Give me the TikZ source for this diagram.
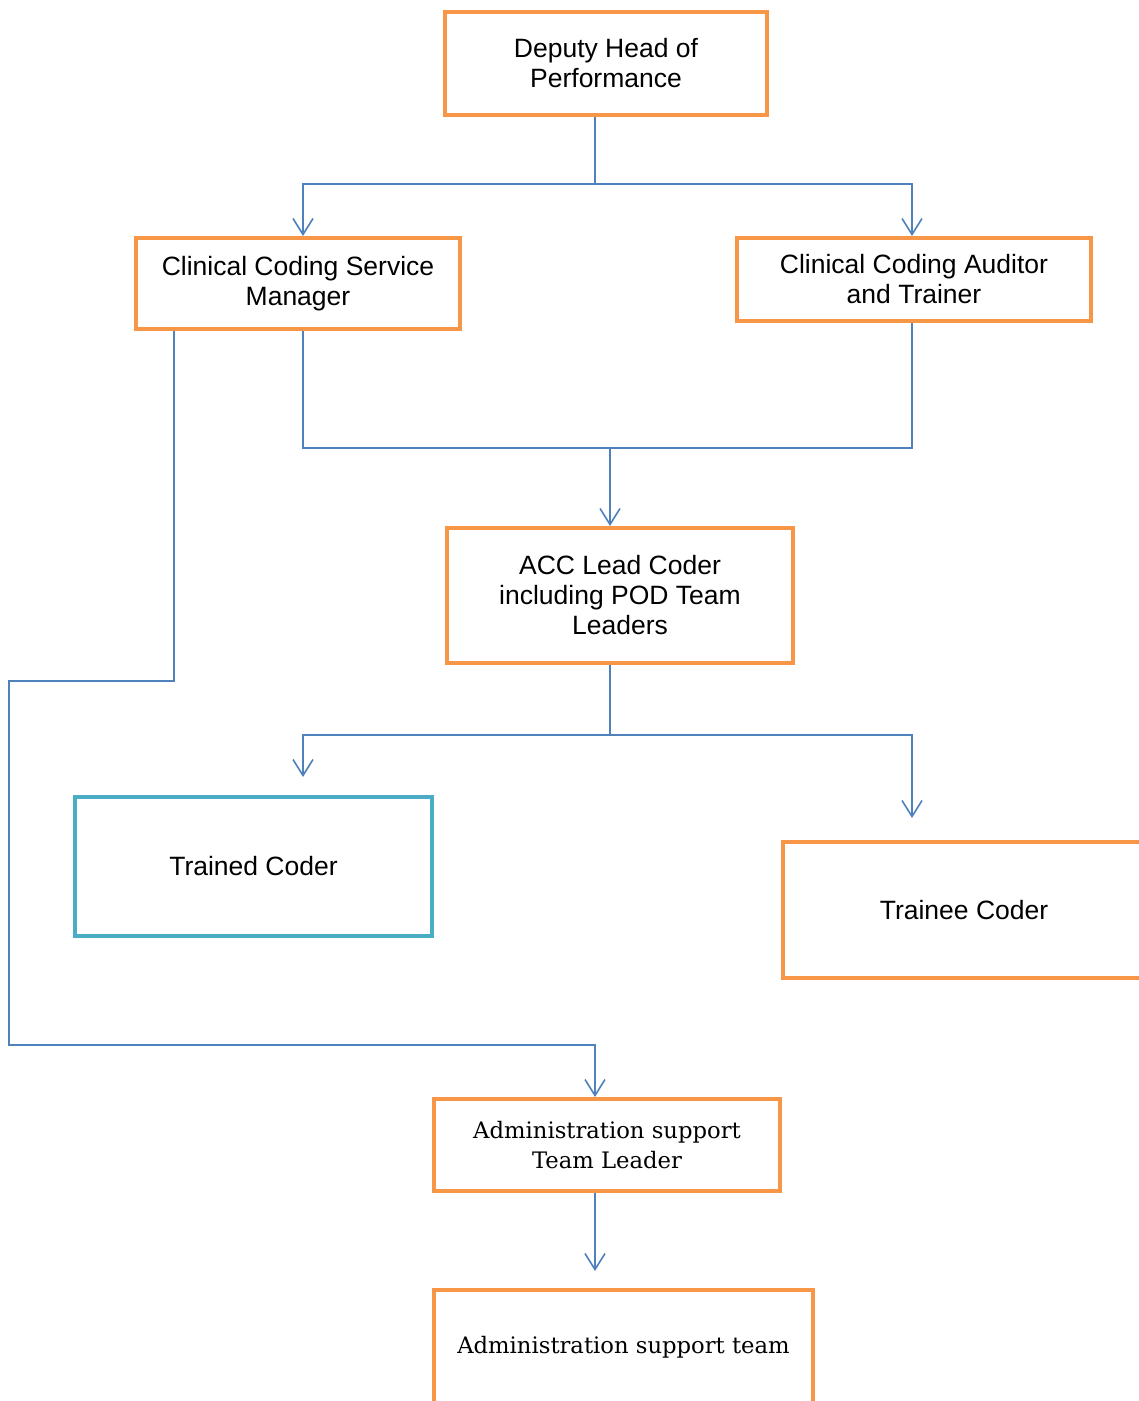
\documentclass[tikz,border=0pt]{standalone}
\usepackage{fontspec}
\setmainfont{Liberation Sans}
\newfontfamily\serifadmin{DejaVu Serif}
\usetikzlibrary{arrows.meta}
\definecolor{borange}{HTML}{F79646}
\definecolor{lblue}{HTML}{4F81BD}
\definecolor{lteal}{HTML}{4BACC6}
\begin{document}
\begin{tikzpicture}[x=1pt,y=-1pt,
  obox/.style={draw=borange, line width=4pt, rectangle, align=center, inner sep=0pt,
    font=\fontsize{26.5}{30}\selectfont},
  tbox/.style={obox, draw=lteal},
  sbox/.style={obox, font=\serifadmin\fontsize{22.7}{30}\selectfont},
  conn/.style={draw=lblue, line width=1.6pt},
  arr/.style={conn, -{Straight Barb[length=16pt,width=20pt]}}]
\useasboundingbox (0,0) rectangle (1139,1401);
\clip (0,0) rectangle (1139,1401);
\fill[white] (0,0) rectangle (1139,1401);

\node[obox, minimum width=322pt, minimum height=103pt] (dep) at (606,63.5) {Deputy Head of\\Performance};
\node[obox, minimum width=324pt, minimum height=91pt] (csm) at (298,283.5) {Clinical Coding Service\\Manager};
\node[obox, minimum width=354pt, minimum height=83pt] (cat) at (914,279.5) {Clinical Coding Auditor\\and Trainer};
\node[obox, minimum width=346pt, minimum height=135pt] (acc) at (620,595.5) {ACC Lead Coder\\including POD Team\\Leaders};
\node[tbox, minimum width=357pt, minimum height=139pt] (trd) at (253.5,866.5) {Trained Coder};
\node[obox, minimum width=362pt, minimum height=136pt] (tre) at (964,910) {Trainee Coder};
\node[sbox, minimum width=346pt, minimum height=92pt] (atl) at (607,1145) {Administration support\\Team Leader};
\node[sbox, minimum width=379pt, minimum height=114pt] (atm) at (623.5,1347) {Administration support team};

\coordinate (j1) at (595,184);
\coordinate (j2) at (610,448);
\coordinate (j3) at (610,735);
\coordinate (c1) at (174,681);
\coordinate (c2) at (9,681);
\coordinate (c3) at (9,1045);
\coordinate (c4) at (595,1045);
\coordinate (t1) at ([xshift=49.5pt,yshift=18pt]trd.north);
\coordinate (t2) at ([xshift=-52pt,yshift=22pt]tre.north);
\coordinate (t3) at ([xshift=-28.5pt,yshift=17pt]atm.north);

\draw[conn] ([xshift=-11pt]dep.south) -- (j1);
\draw[arr] (j1) -| ([xshift=5pt]csm.north);
\draw[arr] (j1) -| ([xshift=-2pt]cat.north);

\draw[conn] ([xshift=5pt]csm.south) |- (j2);
\draw[conn] ([xshift=-2pt]cat.south) |- (j2);
\draw[arr] (j2) -- ([xshift=-10pt]acc.north);

\draw[conn] ([xshift=-10pt]acc.south) -- (j3);
\draw[arr] (j3) -| (t1);
\draw[arr] (j3) -| (t2);

\draw[arr] ([xshift=-124pt]csm.south) -- (c1) -- (c2) -- (c3) -- (c4) -- ([xshift=-12pt]atl.north);
\draw[arr] ([xshift=-12pt]atl.south) -- (t3);
\end{tikzpicture}
\end{document}
